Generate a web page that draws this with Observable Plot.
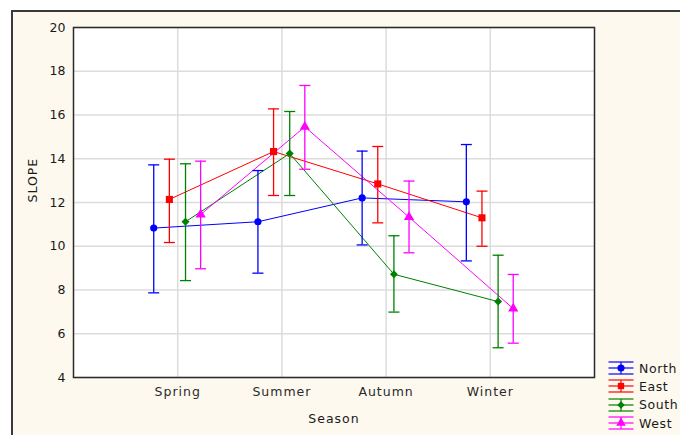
<!DOCTYPE html>
<html>
<head>
<meta charset="utf-8">
<script src="https://cdn.jsdelivr.net/npm/d3@7"></script>
<script src="https://cdn.jsdelivr.net/npm/@observablehq/plot@0.6"></script>
<style>
  html, body { margin: 0; padding: 0; background: #ffffff; }
  #wrap { position: relative; width: 680px; height: 435px; overflow: hidden; }
  #bg { position: absolute; left: 11px; top: 10px; right: 0; bottom: 0; background: #fdf9ee;
        border-top: 2px solid #3a3a3a; border-left: 2px solid #3a3a3a; }
  #chart { position: absolute; left: 0; top: 0; }
  #chart svg { background: transparent !important; }
  #chart svg text { letter-spacing: 1px; }
  #chart svg g[aria-label="y-axis tick label"] text { letter-spacing: 0; }
  #legend { position: absolute; left: 608px; top: 359px; font-family: "DejaVu Sans", sans-serif;
            font-size: 12.5px; color: #1a1a1a; letter-spacing: 0.6px; }
  .row { display: flex; align-items: center; height: 18.3px; }
  .row svg { margin-right: 5px; }
</style>
</head>
<body>
<div id="wrap">
  <div id="bg"></div>
  <div id="chart"></div>
  <div id="legend"></div>
</div>
<script>
const seasons = ["Spring", "Summer", "Autumn", "Winter"];
const seriesNames = ["North", "East", "South", "West"];
const seriesColors = ["#0000ff", "#ff0000", "#008000", "#ff00ff"];
const seriesSymbols = ["circle", "square", "diamond2", "triangle"];
const yTicks = [4, 6, 8, 10, 12, 14, 16, 18, 20];

const northMean = [10.83, 11.12, 12.21, 12.03];
const northLo   = [7.87, 8.77, 10.06, 9.33];
const northHi   = [13.72, 13.46, 14.35, 14.65];

const eastMean  = [12.14, 14.33, 12.85, 11.30];
const eastLo    = [10.17, 12.32, 11.07, 10.00];
const eastHi    = [13.98, 16.28, 14.56, 12.52];

const southMean = [11.12, 14.24, 8.72, 7.47];
const southLo   = [8.43, 12.32, 6.99, 5.36];
const southHi   = [13.77, 16.16, 10.48, 9.59];

const westMean  = [11.45, 15.46, 11.33, 7.15];
const westLo    = [8.97, 13.52, 9.70, 5.57];
const westHi    = [13.89, 17.35, 12.98, 8.71];

const means = [northMean, eastMean, southMean, westMean];
const los = [northLo, eastLo, southLo, westLo];
const his = [northHi, eastHi, southHi, westHi];
const dodge = [-0.23, -0.08, 0.075, 0.22];

const rows = [];
seriesNames.forEach((s, i) => {
  seasons.forEach((season, j) => {
    rows.push({series: s, season, pos: j + 1 + dodge[i], mean: means[i][j], lo: los[i][j], hi: his[i][j]});
  });
});

const capSymbol = {
  draw(context, size) {
    const r = Math.sqrt(size / Math.PI);
    context.moveTo(-r, 0);
    context.lineTo(r, 0);
  }
};

const colorScale = {domain: seriesNames, range: seriesColors};

const chart = Plot.plot({
  width: 680,
  height: 435,
  marginLeft: 73,
  marginRight: 86,
  marginTop: 27,
  marginBottom: 58,
  style: {fontFamily: "DejaVu Sans, sans-serif", fontSize: "12px", color: "#1a1a1a", background: "transparent"},
  x: {domain: [0, 5], axis: null},
  y: {domain: [4, 20], axis: null},
  color: colorScale,
  marks: [
    Plot.frame({fill: "#ffffff", stroke: null}),
    Plot.gridX([1, 2, 3, 4], {stroke: "#dcdcdc", strokeOpacity: 1, strokeWidth: 1.5}),
    Plot.gridY(yTicks, {stroke: "#dcdcdc", strokeOpacity: 1, strokeWidth: 1.5}),
    Plot.frame({stroke: "#2a2a2a", strokeWidth: 1.5}),
    Plot.axisY({ticks: yTicks, tickSize: 0, tickPadding: 8, label: null, fill: "#1a1a1a", fontSize: 12.5}),
    Plot.axisX({ticks: [1, 2, 3, 4], tickFormat: d => seasons[d - 1], tickSize: 0, tickPadding: 10, label: null, fill: "#2a2a2a", fontSize: 12.5}),
    Plot.text(["SLOPE"], {frameAnchor: "left", dx: -41, rotate: -90, fill: "#1a1a1a", fontSize: 12.5}),
    Plot.text(["Season"], {frameAnchor: "bottom", dy: 45, fill: "#1a1a1a", fontSize: 12.5}),
    Plot.line(rows, {x: "pos", y: "mean", z: "series", stroke: "series", strokeWidth: 1}),
    Plot.ruleX(rows, {x: "pos", y1: "lo", y2: "hi", stroke: "series", strokeWidth: 1.3}),
    Plot.dot(rows, {x: "pos", y: "lo", symbol: () => capSymbol, r: 5.5, stroke: "series", strokeWidth: 1.3}),
    Plot.dot(rows, {x: "pos", y: "hi", symbol: () => capSymbol, r: 5.5, stroke: "series", strokeWidth: 1.3}),
    Plot.dot(rows.filter(d => d.series === "North"), {x: "pos", y: "mean", symbol: "circle", r: 3.6, fill: "series", stroke: null}),
    Plot.dot(rows.filter(d => d.series === "East"), {x: "pos", y: "mean", symbol: "square", r: 4, fill: "series", stroke: null}),
    Plot.dot(rows.filter(d => d.series === "South"), {x: "pos", y: "mean", symbol: "diamond2", r: 3.6, fill: "series", stroke: null}),
    Plot.dot(rows.filter(d => d.series === "West"), {x: "pos", y: "mean", symbol: "triangle", r: 3.8, fill: "series", stroke: null})
  ]
});
document.getElementById("chart").append(chart);

// Legend
const legend = document.getElementById("legend");
const symPaths = {
  circle: d3.symbol(d3.symbolCircle, 40)(),
  square: d3.symbol(d3.symbolSquare, 40)(),
  diamond2: d3.symbol(d3.symbolDiamond2, 36)(),
  triangle: d3.symbol(d3.symbolTriangle, 40)()
};
seriesNames.forEach((name, i) => {
  const c = seriesColors[i];
  const row = document.createElement("div");
  row.className = "row";
  row.innerHTML = `<svg width="26" height="16" viewBox="-13 -8 26 16">
    <line x1="-12.5" x2="12.5" y1="-6" y2="-6" stroke="${c}" stroke-width="1.2"/>
    <line x1="-12.5" x2="12.5" y1="0" y2="0" stroke="${c}" stroke-width="1.2"/>
    <line x1="-12.5" x2="12.5" y1="6" y2="6" stroke="${c}" stroke-width="1.2"/>
    <line x1="0" x2="0" y1="-6" y2="6" stroke="${c}" stroke-width="1.2"/>
    <path d="${symPaths[seriesSymbols[i]]}" fill="${c}"/>
  </svg><span>${name}</span>`;
  legend.append(row);
});
</script>
</body>
</html>
